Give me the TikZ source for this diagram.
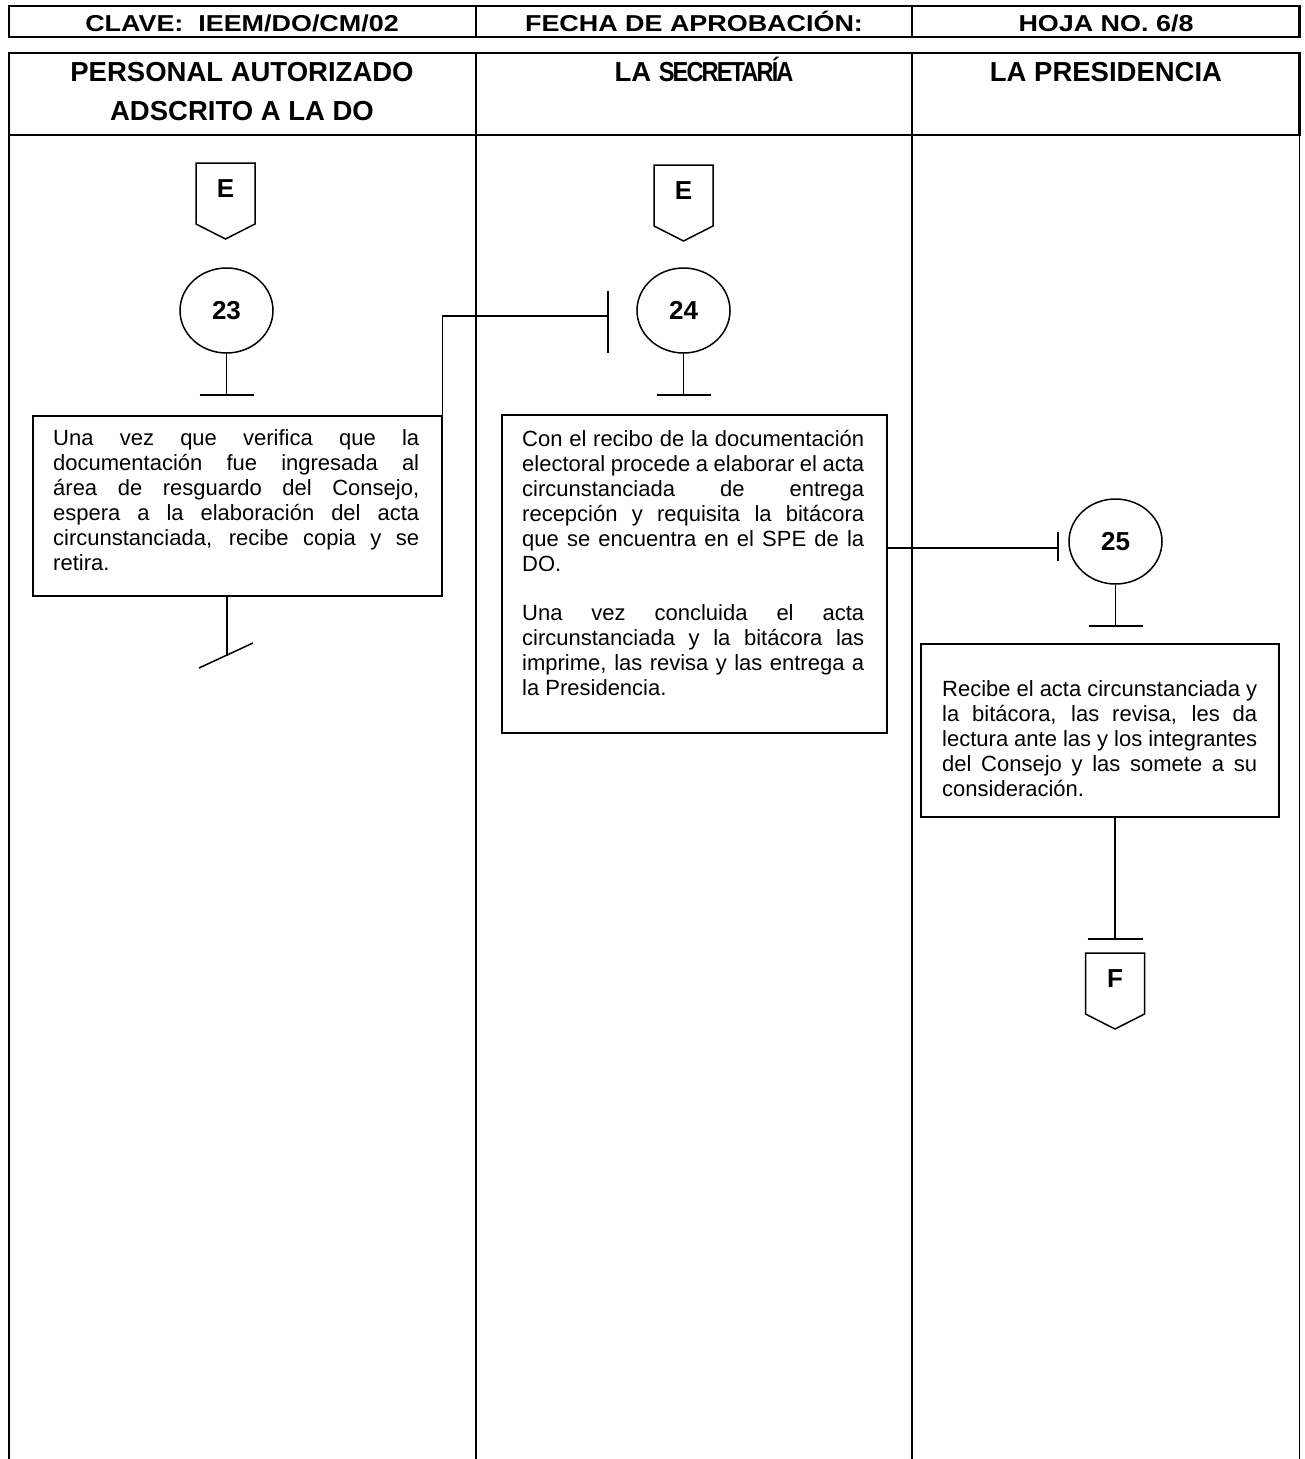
\documentclass[tikz,border=0pt]{standalone}
\usepackage{fontspec}
\setmainfont{Liberation Sans}
\newfontfamily\hdwide{Liberation Sans}[FakeStretch=1.17]
\newfontfamily\hdcond{Liberation Sans}[FakeStretch=0.86, LetterSpace=-7]
\usetikzlibrary{shapes.geometric}
\newcommand{\jl}[1]{\makebox[\jw][s]{\spaceskip=0pt\relax\xspaceskip=0pt\relax#1}}
\newcommand{\offpage}[1]{\draw[shp] ([shift={(-29.5,-25.5)}]#1.center) -- ++(59,0) -- ++(0,61) -- ++(-29.5,15) -- ++(-29.5,-15) -- cycle;}
\tikzset{
  frame/.style={line width=2.2pt},
  lane/.style={line width=1.8pt},
  shp/.style={draw, line width=1.5pt},
  hdone/.style={anchor=base, inner sep=0pt, font=\hdwide\bfseries\fontsize{23}{27}\selectfont},
  hdtwo/.style={anchor=base, inner sep=0pt, font=\bfseries\fontsize{27.5}{38}\selectfont},
  numtxt/.style={inner sep=0pt, font=\bfseries\fontsize{26}{30}\selectfont},
  circ/.style={shp, ellipse, minimum width=93pt, minimum height=85pt, inner sep=0pt, font=\bfseries\fontsize{26}{30}\selectfont},
  boxn/.style={shp, rectangle, anchor=north west, inner sep=0pt},
  bodytxt/.style={anchor=north west, inner sep=0pt, text width=#1, align=justify, font=\fontsize{22}{25}\selectfont}
}
\begin{document}
\begin{tikzpicture}[x=1pt, y=-1pt]
\useasboundingbox (0,0) rectangle (1305,1459);
\fill[white] (0,0) rectangle (1305,1459);

% top header row
\draw[frame] (9,6) rectangle (1299.5,37);
\draw[frame] (476,6) -- (476,37);
\draw[frame] (912,6) -- (912,37);
\node[hdone] (h1) at (242,31.5) {CLAVE:\ \ IEEM/DO/CM/02};
\node[hdone] (h2) at (694,31.5) {FECHA DE APROBACIÓN:};
\node[hdone] (h3) at (1106,31.5) {HOJA NO. 6/8};

% lane header row
\draw[frame] (9,53) rectangle (1299.5,135);
\draw[frame] (476,53) -- (476,135);
\draw[frame] (912,53) -- (912,135);
\node[hdtwo] (l1a) at (242,81.5) {PERSONAL AUTORIZADO};
\node[hdtwo] (l1b) at (242,120) {ADSCRITO A LA DO};
\node[hdtwo] (l2) at (704,81.5) {LA {\hdcond SECRETARÍA}};
\node[hdtwo] (l3) at (1106,81.5) {LA PRESIDENCIA};

% lane lines
\draw[lane] (9,135) -- (9,1459);
\draw[lane] (476,135) -- (476,1459);
\draw[lane] (912,135) -- (912,1459);
\draw[lane] (1299.5,135) -- (1299.5,1459);

% lane 1
\node[numtxt] (e1) at (225.5,188.5) {E};
\offpage{e1}
\node[circ] (c23) at (226.5,310.5) {23};
\coordinate (t23) at (226.5,395);
\draw[shp] (c23.south) -- (t23);
\draw[shp] ([xshift=-27pt]t23) -- ([xshift=27pt]t23);
\node[boxn, minimum width=409pt, minimum height=180pt] (b23) at (32,415) {};
\node[bodytxt=366pt] (s23) at (53,427.5) {\def\jw{366pt}\strut\jl{Una vez que verifica que la}\\
\jl{documentación fue ingresada al}\\
\jl{área de resguardo del Consejo,}\\
\jl{espera a la elaboración del acta}\\
\jl{circunstanciada, recibe copia y se}\\
retira.};
\coordinate (x23) at (227,655.5);
\draw[shp] (x23 |- b23.south) -- (x23);
\draw[shp] ([shift={(-28,12.5)}]x23) -- ([shift={(26,-12.5)}]x23);

% connector 23 -> 24
\coordinate (j24) at (608,316);
\draw[shp] (b23.north east) |- (j24);
\draw[shp] ([yshift=25pt]j24) -- ([yshift=-37pt]j24);

% lane 2
\node[numtxt] (e2) at (683.5,190.5) {E};
\offpage{e2}
\node[circ] (c24) at (683.5,310.5) {24};
\coordinate (t24) at (683.5,395);
\draw[shp] (c24.south) -- (t24);
\draw[shp] ([xshift=-27pt]t24) -- ([xshift=27pt]t24);
\node[boxn, minimum width=385pt, minimum height=318pt] (b24) at (501,414) {};
\node[bodytxt=342pt] (s24) at (522,428.5) {\def\jw{342pt}\strut\jl{Con el recibo de la documentación}\\
\jl{electoral procede a elaborar el acta}\\
\jl{circunstanciada de entrega}\\
\jl{recepción y requisita la bitácora}\\
\jl{que se encuentra en el SPE de la}\\
DO.\\[24pt]
\jl{Una vez concluida el acta}\\
\jl{circunstanciada y la bitácora las}\\
\jl{imprime, las revisa y las entrega a}\\
la Presidencia.};

% connector 24 -> 25
\coordinate (j25) at (1058,548);
\draw[shp] (b24.east |- j25) -- (j25);
\draw[shp] ([yshift=16pt]j25) -- ([yshift=-13pt]j25);

% lane 3
\node[circ] (c25) at (1115.5,541.5) {25};
\coordinate (t25) at (1115.5,626);
\draw[shp] (c25.south) -- (t25);
\draw[shp] ([xshift=-27pt]t25) -- ([xshift=27pt]t25);
\node[boxn, minimum width=358pt, minimum height=173pt] (b25) at (920,643) {};
\node[bodytxt=315pt] (s25) at (942,679) {\def\jw{315pt}\strut\jl{Recibe el acta circunstanciada y}\\
\jl{la bitácora, las revisa, les da}\\
\jl{lectura ante las y los integrantes}\\
\jl{del Consejo y las somete a su}\\
consideración.};
\coordinate (tf) at (1115,939);
\draw[shp] (tf |- b25.south) -- (tf);
\draw[shp] ([xshift=-27.5pt]tf) -- ([xshift=27.5pt]tf);
\node[numtxt] (f1) at (1115,978.5) {F};
\offpage{f1}
\end{tikzpicture}
\end{document}
